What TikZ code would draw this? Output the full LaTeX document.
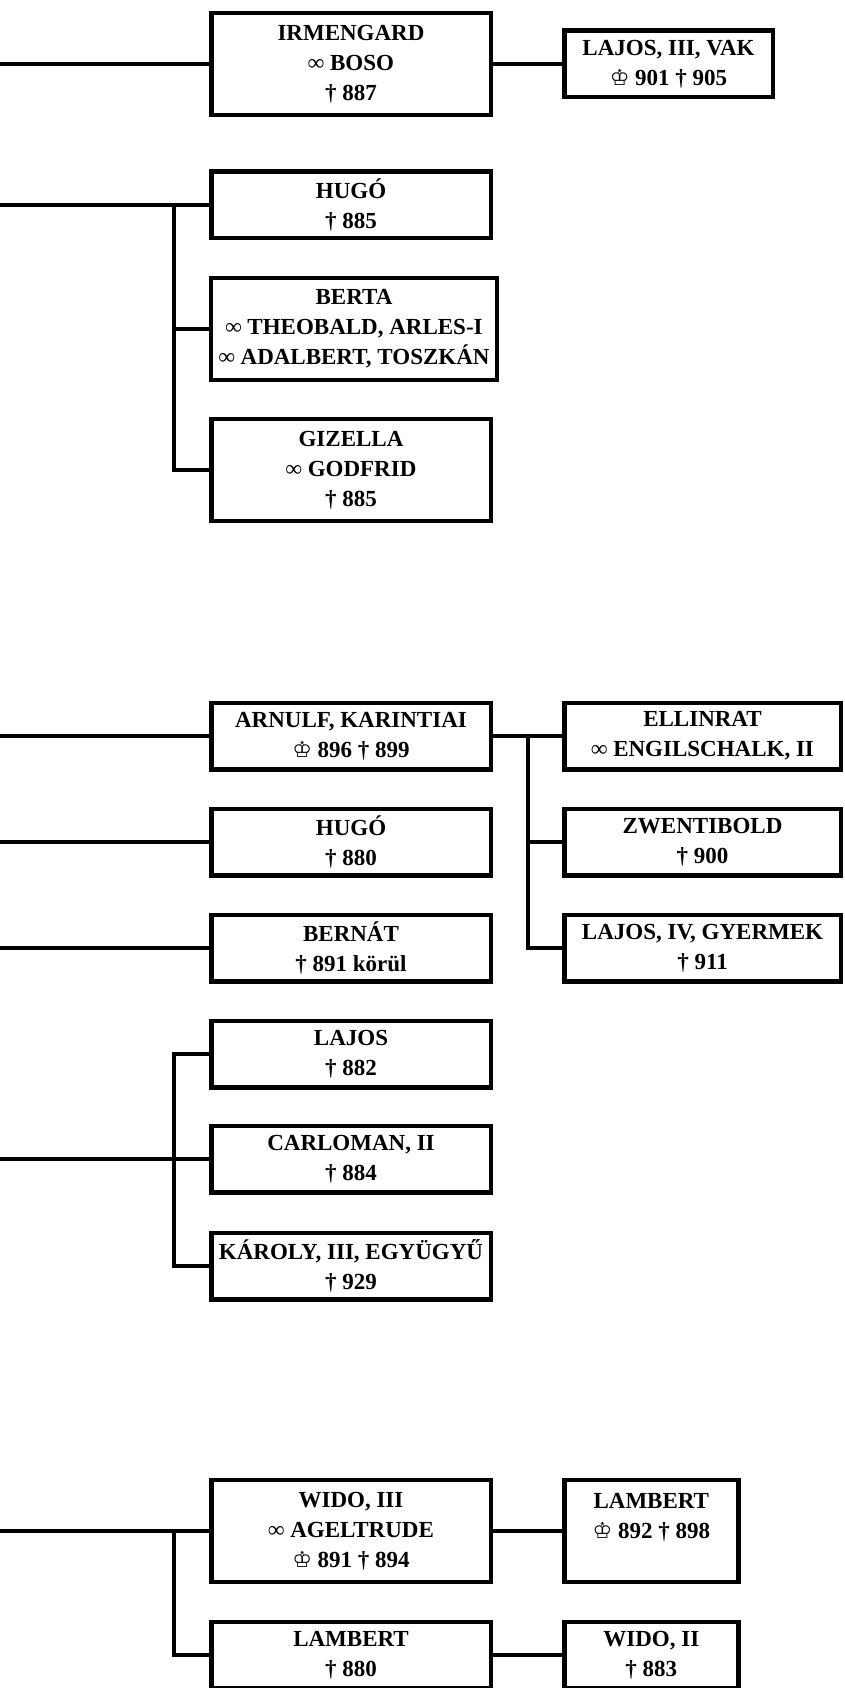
\documentclass[tikz,border=0pt]{standalone}
\usepackage{fontspec}
\setmainfont{Liberation Serif}
\newfontfamily\symfont{DejaVu Sans}
\newcommand{\crown}{{\symfont\fontsize{22}{24}\selectfont ♔}}

\begin{document}
\begin{tikzpicture}[x=1pt, y=-1pt,
	person/.style={draw, line width=4.5pt, inner xsep=4pt, inner ysep=6pt, align=center,
		font=\bfseries\fontsize{23}{30}\selectfont},
	wide/.style={person, minimum width=279.5pt},
	two/.style={minimum height=66.5pt},
	three/.style={minimum height=102pt},
	link/.style={line width=4pt}]
	\useasboundingbox (0,0) rectangle (844,1688);

	% first family
	\node[wide, three] (irmengard) at (351,64) {IRMENGARD\\∞ BOSO\\† 887};
	\node[person, two, minimum width=208.5pt] (lajosvak) at (668.5,64) {LAJOS, III, VAK\\\crown{} 901 † 905};
	\node[wide, two] (hugoa) at (351,205) {HUGÓ\\† 885};
	\node[person, three, minimum width=286pt] (berta) at (354,329) {BERTA\\∞ THEOBALD, ARLES-I\\∞ ADALBERT, TOSZKÁN};
	\node[wide, three] (gizella) at (351,470) {GIZELLA\\∞ GODFRID\\† 885};
	\coordinate (irmenfrom) at (0,64);
	\coordinate (hugoafrom) at (0,205);
	\coordinate (hugoafork) at (174,205);
	\draw[link] (irmenfrom) -- (irmengard.west);
	\draw[link] (irmengard.east) -- (lajosvak.west);
	\draw[link] (hugoafrom) -- (hugoa.west);
	\draw[link] (hugoafork) |- (berta.west);
	\draw[link] (hugoafork) |- (gizella.west);

	% second family
	\node[wide, two] (arnulf) at (351,736) {ARNULF, KARINTIAI\\\crown{} 896 † 899};
	\node[person, two, minimum width=276.5pt] (ellinrat) at (702.5,736) {ELLINRAT\\∞ ENGILSCHALK, II};
	\node[wide, two] (hugob) at (351,842) {HUGÓ\\† 880};
	\node[person, two, minimum width=276.5pt] (zwentibold) at (702.5,842) {ZWENTIBOLD\\† 900};
	\node[wide, two] (bernat) at (351,948) {BERNÁT\\† 891 körül};
	\node[person, two, minimum width=276.5pt] (lajosiv) at (702.5,948) {LAJOS, IV, GYERMEK\\† 911};
	\node[wide, two] (lajos) at (351,1054) {LAJOS\\† 882};
	\node[wide, two] (carloman) at (351,1159) {CARLOMAN, II\\† 884};
	\node[wide, two] (karoly) at (351,1266) {KÁROLY, III, EGYÜGYŰ\\† 929};
	\coordinate (arnulffrom) at (0,736);
	\coordinate (hugobfrom) at (0,842);
	\coordinate (bernatfrom) at (0,948);
	\coordinate (carlofrom) at (0,1159);
	\coordinate (arnulffork) at (527.5,736);
	\coordinate (carlofork) at (174,1159);
	\draw[link] (arnulffrom) -- (arnulf.west);
	\draw[link] (arnulf.east) -- (ellinrat.west);
	\draw[link] (arnulffork) |- (zwentibold.west);
	\draw[link] (arnulffork) |- (lajosiv.west);
	\draw[link] (hugobfrom) -- (hugob.west);
	\draw[link] (bernatfrom) -- (bernat.west);
	\draw[link] (carlofrom) -- (carloman.west);
	\draw[link] (carlofork) |- (lajos.west);
	\draw[link] (carlofork) |- (karoly.west);

	% third family
	\node[wide, three] (wido) at (351,1531) {WIDO, III\\∞ AGELTRUDE\\\crown{} 891 † 894};
	\node[person, three, minimum width=174pt] (lamberta) at (651.3,1531) {LAMBERT\\\crown{} 892 † 898\\\mbox{}};
	\node[wide, two] (lambertb) at (351,1655) {LAMBERT\\† 880};
	\node[person, two, minimum width=174pt] (widoii) at (651.3,1655) {WIDO, II\\† 883};
	\coordinate (widofrom) at (0,1531);
	\coordinate (widofork) at (174,1531);
	\draw[link] (widofrom) -- (wido.west);
	\draw[link] (wido.east) -- (lamberta.west);
	\draw[link] (widofork) |- (lambertb.west);
	\draw[link] (lambertb.east) -- (widoii.west);
\end{tikzpicture}
\end{document}
